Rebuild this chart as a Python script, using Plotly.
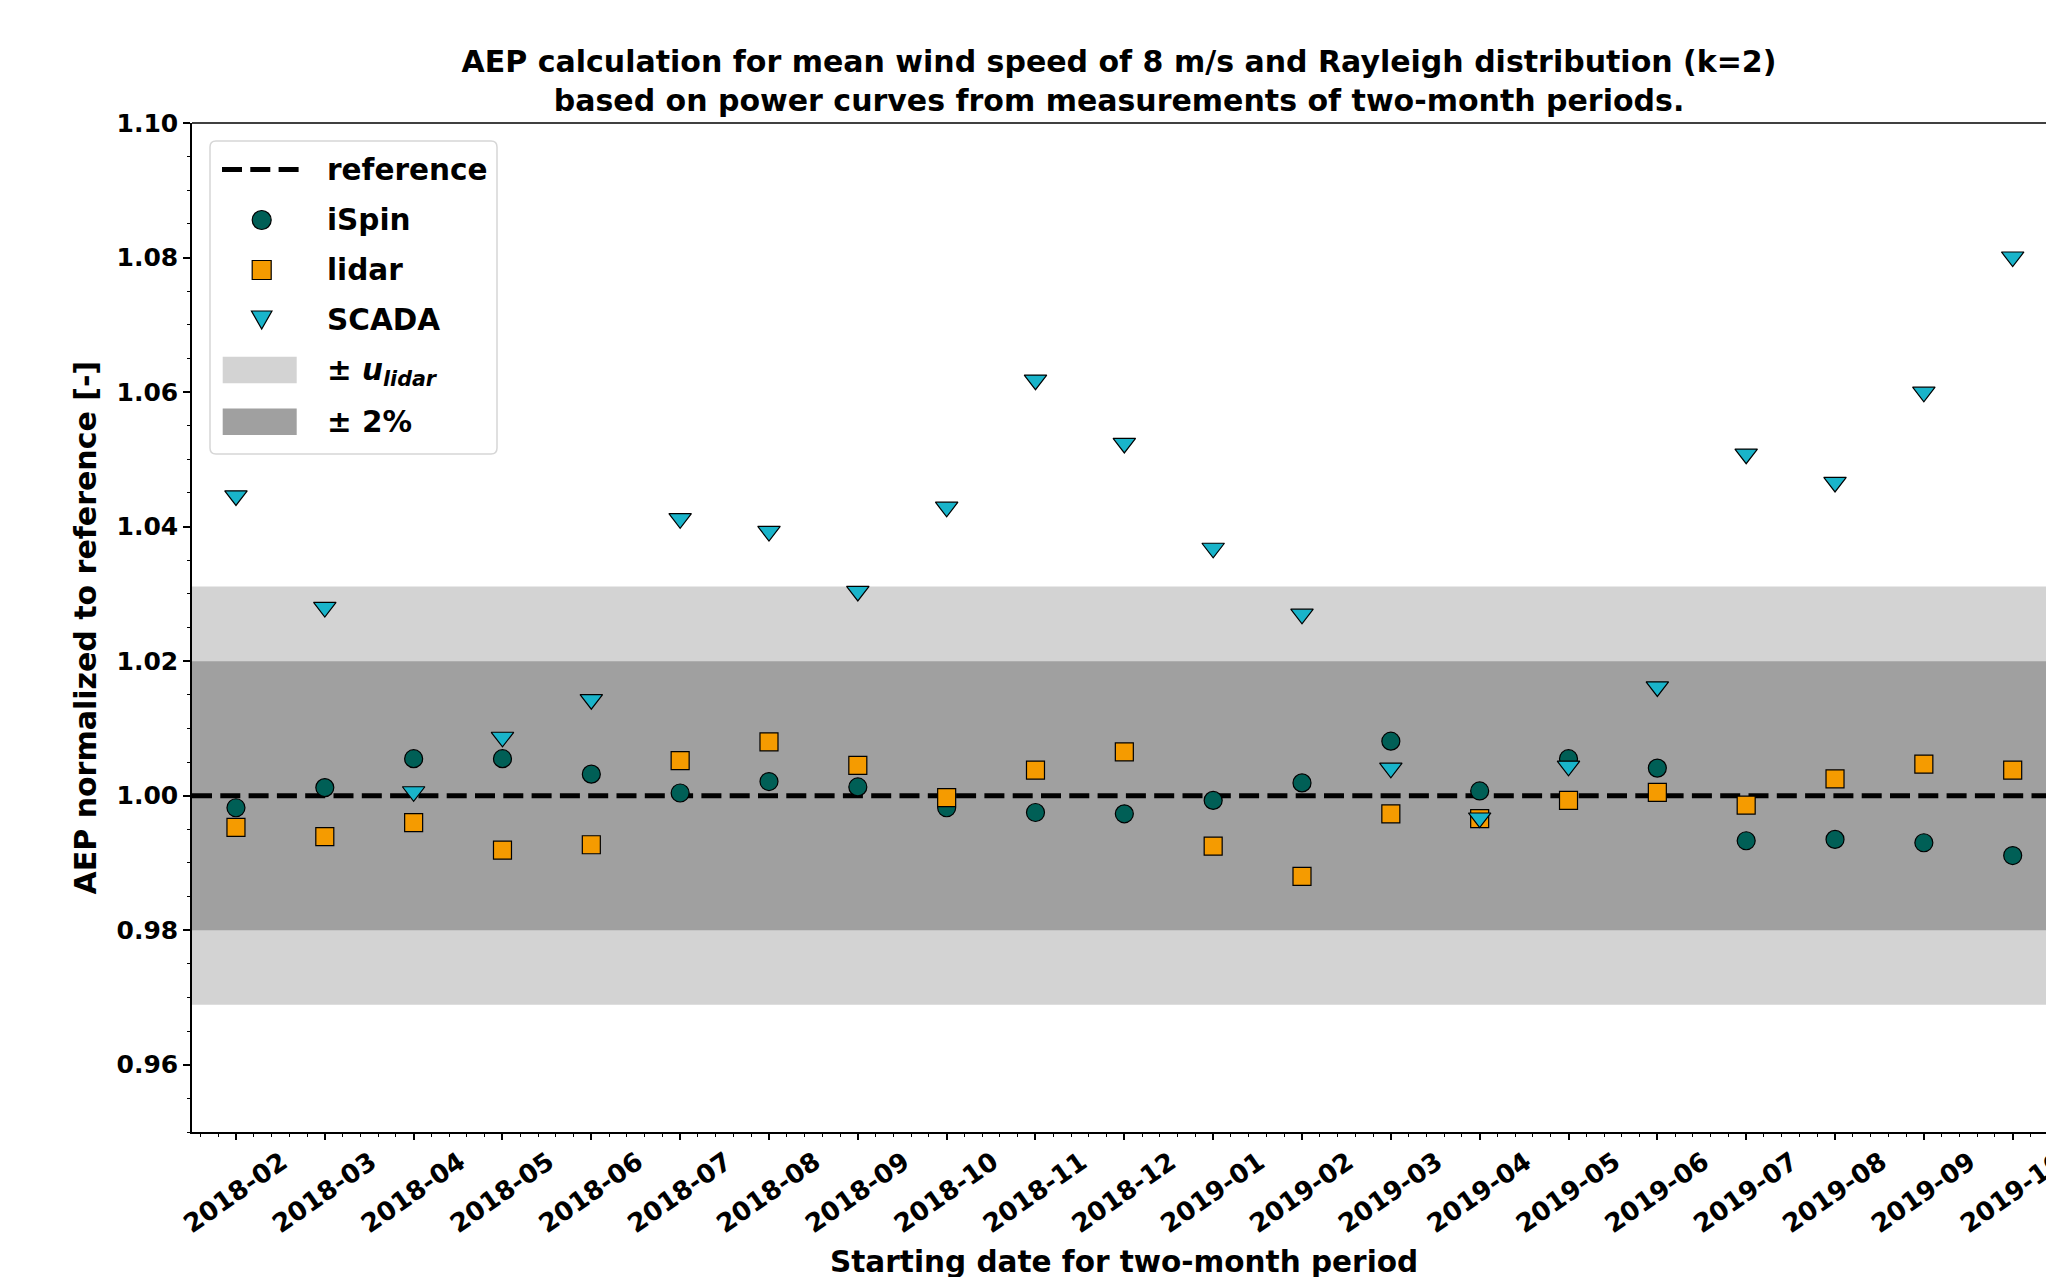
import plotly.graph_objects as go

# ---------------- data ----------------
LABELS = ["2018-02", "2018-03", "2018-04", "2018-05", "2018-06", "2018-07", "2018-08",
          "2018-09", "2018-10", "2018-11", "2018-12", "2019-01", "2019-02", "2019-03",
          "2019-04", "2019-05", "2019-06", "2019-07", "2019-08", "2019-09", "2019-10"]
ISPIN = [0.9982, 1.0012, 1.0055, 1.0055, 1.0032, 1.0004, 1.0021, 1.0013, 0.9982, 0.9975,
         0.9973, 0.9993, 1.0019, 1.0081, 1.0007, 1.0055, 1.0041, 0.9933, 0.9935, 0.9930, 0.9911]
LIDAR = [0.9953, 0.9939, 0.9960, 0.9919, 0.9927, 1.0052, 1.0080, 1.0045, 0.9997, 1.0038,
         1.0065, 0.9925, 0.9880, 0.9973, 0.9966, 0.9993, 1.0005, 0.9986, 1.0025, 1.0047, 1.0038]
SCADA = [1.0446, 1.0280, 1.0006, 1.0087, 1.0143, 1.0412, 1.0393, 1.0304, 1.0429, 1.0618,
         1.0524, 1.0368, 1.0270, 1.0041, 0.9967, 1.0044, 1.0162, 1.0508, 1.0466, 1.0600, 1.0801]
REFERENCE = 1.0
U_LIDAR = 0.0311
TOL = 0.02

# ---------------- styles ----------------
C_ISPIN = "#005F56"
C_LIDAR = "#F59B00"
C_SCADA = "#19B4CA"
C_LIGHT = "#D3D3D3"
C_DARK = "#A0A0A0"
FONT = "DejaVu Sans"

W, H = 2046, 1277
ML, MR, MT, MB = 192, 0, 123, 145
PW = W - ML - MR
PH = H - MT - MB


def fx(px):
    return (px - ML) / PW


def fy(py):
    return (H - MB - py) / PH


x = list(range(len(LABELS)))

fig = go.Figure()
mk_line = dict(color="black", width=1.2)
fig.add_trace(go.Scatter(x=x, y=ISPIN, mode="markers", name="iSpin",
                         marker=dict(symbol="circle", size=18, color=C_ISPIN, line=mk_line)))
fig.add_trace(go.Scatter(x=x, y=LIDAR, mode="markers", name="lidar",
                         marker=dict(symbol="square", size=18, color=C_LIDAR, line=mk_line)))
fig.add_trace(go.Scatter(x=x, y=SCADA, mode="markers", name="SCADA",
                         marker=dict(symbol="triangle-down", size=19.5, color=C_SCADA, line=mk_line)))

shapes = [
    dict(type="rect", xref="paper", x0=0, x1=1, yref="y",
         y0=REFERENCE - U_LIDAR, y1=REFERENCE + U_LIDAR,
         fillcolor=C_LIGHT, line=dict(width=0), layer="below"),
    dict(type="rect", xref="paper", x0=0, x1=1, yref="y",
         y0=REFERENCE - TOL, y1=REFERENCE + TOL,
         fillcolor=C_DARK, line=dict(width=0), layer="below"),
    dict(type="line", xref="paper", x0=0, x1=1, yref="y", y0=REFERENCE, y1=REFERENCE,
         line=dict(color="black", width=5, dash="20px,8.3px"), layer="below"),
    # top spine
    dict(type="line", xref="paper", x0=0, x1=1, yref="paper", y0=1, y1=1,
         line=dict(color="black", width=1.5)),
]

# ---------------- manual legend ----------------
LB = (210, 141, 497, 454)  # left, top, right, bottom in px
r = 6


def P(px, py):
    return f"{fx(px):.6f},{fy(py):.6f}"


l, t, rr, b = LB
path = ("M" + P(l + r, t) + " L" + P(rr - r, t) + " Q" + P(rr, t) + " " + P(rr, t + r) +
        " L" + P(rr, b - r) + " Q" + P(rr, b) + " " + P(rr - r, b) +
        " L" + P(l + r, b) + " Q" + P(l, b) + " " + P(l, b - r) +
        " L" + P(l, t + r) + " Q" + P(l, t) + " " + P(l + r, t) + " Z")
shapes.append(dict(type="path", xref="paper", yref="paper", path=path,
                   fillcolor="rgba(255,255,255,0.85)", line=dict(color="#D6D6D6", width=1.5)))

rows = [169.5, 220, 270, 320, 372, 421.7]
sx = 261.7
shapes.append(dict(type="line", xref="paper", yref="paper", x0=fx(222), x1=fx(299),
                   y0=fy(rows[0]), y1=fy(rows[0]),
                   line=dict(color="black", width=5, dash="20px,8.3px")))
d = 19
shapes.append(dict(type="circle", xref="paper", yref="paper",
                   x0=fx(sx - d / 2), x1=fx(sx + d / 2), y0=fy(rows[1] + d / 2), y1=fy(rows[1] - d / 2),
                   fillcolor=C_ISPIN, line=dict(color="black", width=1.2)))
shapes.append(dict(type="rect", xref="paper", yref="paper",
                   x0=fx(sx - d / 2), x1=fx(sx + d / 2), y0=fy(rows[2] + d / 2), y1=fy(rows[2] - d / 2),
                   fillcolor=C_LIDAR, line=dict(color="black", width=1.2)))
tw, th = 20.5, 18
tri = ("M" + P(sx - tw / 2, rows[3] - th / 2) + " L" + P(sx + tw / 2, rows[3] - th / 2) +
       " L" + P(sx, rows[3] + th / 2) + " Z")
shapes.append(dict(type="path", xref="paper", yref="paper", path=tri,
                   fillcolor=C_SCADA, line=dict(color="black", width=1.2)))
for yy, col in ((370, C_LIGHT), (421.7, C_DARK)):
    shapes.append(dict(type="rect", xref="paper", yref="paper",
                       x0=fx(222.7), x1=fx(296.7), y0=fy(yy + 13.3), y1=fy(yy - 13.3),
                       fillcolor=col, line=dict(width=0)))

leg_texts = ["reference", "iSpin", "lidar", "SCADA",
             "± <i>u</i><sub><i>lidar</i></sub>", "± 2%"]
annotations = []
for yy, txt in zip(rows, leg_texts):
    annotations.append(dict(text=txt, xref="paper", yref="paper", x=fx(325), y=fy(yy),
                            xanchor="left", yanchor="middle", showarrow=False,
                            font=dict(family=FONT, size=29.5, color="black", weight="bold")))

# axis titles
annotations.append(dict(text="AEP normalized to reference [-]", xref="paper", yref="paper",
                        x=fx(85), y=0.5, textangle=-90, xanchor="center", yanchor="middle",
                        showarrow=False,
                        font=dict(family=FONT, size=30, color="black", weight="bold")))
annotations.append(dict(text="Starting date for two-month period", xref="paper", yref="paper",
                        x=fx(1124), y=fy(1262), xanchor="center", yanchor="middle",
                        showarrow=False,
                        font=dict(family=FONT, size=29.5, color="black", weight="bold")))

fig.update_layout(
    width=W, height=H,
    margin=dict(l=ML, r=MR, t=MT, b=MB, pad=0),
    plot_bgcolor="white", paper_bgcolor="white",
    showlegend=False,
    font=dict(family=FONT, size=25, color="black", weight="bold"),
    title=dict(text="AEP calculation for mean wind speed of 8 m/s and Rayleigh distribution (k=2)"
                    "<br>based on power curves from measurements of two-month periods.",
               x=0.5, xref="paper", xanchor="center", y=1, yref="paper", yanchor="bottom",
               pad=dict(b=51),
               font=dict(family=FONT, size=30, color="black", weight="bold")),
    xaxis=dict(range=[-0.495, 20.375], tickmode="array", tickvals=x, ticktext=LABELS,
               ticks="outside", ticklen=6, tickwidth=1.5, tickcolor="black",
               showline=True, linecolor="black", linewidth=1.5, mirror=False,
               showgrid=False, zeroline=False, tickangle=-35, ticklabelshift=46,
               ticklabelstandoff=-3,
               ticklabeloverflow="allow",
               automargin=False,
               tickfont=dict(family=FONT, size=26, color="black", weight="bold"),
               minor=dict(ticks="outside", ticklen=3.5, tickwidth=1, tickcolor="black",
                          dtick=0.2, tick0=0, showgrid=False)),
    yaxis=dict(range=[0.95, 1.10], tickmode="linear", tick0=0.96, dtick=0.02, tickformat=".2f",
               ticks="outside", ticklen=7, tickwidth=1.5, tickcolor="black",
               showline=True, linecolor="black", linewidth=1.5, mirror=False,
               showgrid=False, zeroline=False, automargin=False,
               tickfont=dict(family=FONT, size=25, color="black", weight="bold"),
               minor=dict(ticks="outside", ticklen=3.5, tickwidth=1, tickcolor="black",
                          dtick=0.005, tick0=0.95, showgrid=False)),
    shapes=shapes,
    annotations=annotations,
)

fig.write_html("out.html")
